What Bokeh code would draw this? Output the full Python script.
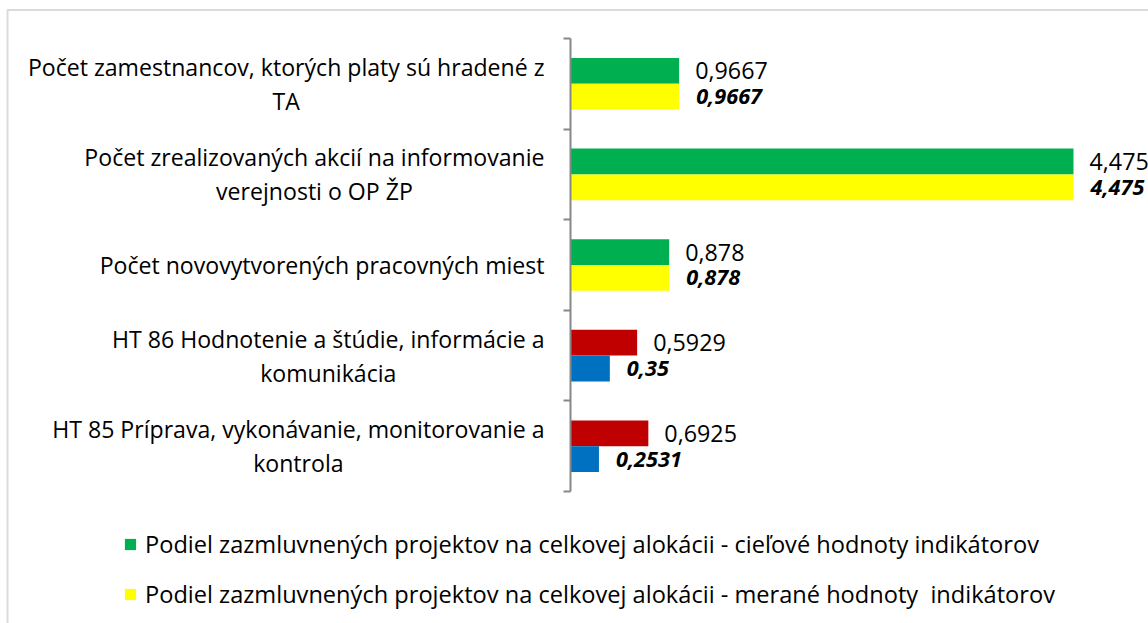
import subprocess
import glob

from bokeh.plotting import figure
from bokeh.models import (ColumnDataSource, FixedTicker, BoxAnnotation, Legend, LegendItem,
                          Range1d)
from bokeh.embed import file_html
from bokeh.resources import INLINE
from bokeh.core.properties import value

# ---------------- data ----------------
categories = [
    "Počet zamestnancov, ktorých platy sú hradené z\nTA",
    "Počet zrealizovaných akcií na informovanie\nverejnosti o OP ŽP",
    "Počet novovytvorených pracovných miest",
    "HT 86 Hodnotenie a štúdie, informácie a\nkomunikácia",
    "HT 85 Príprava, vykonávanie, monitorovanie a\nkontrola",
]
target_values = [0.9667, 4.475, 0.878, 0.5929, 0.6925]
measured_values = [0.9667, 4.475, 0.878, 0.35, 0.2531]
series_names = [
    "Podiel zazmluvnených projektov na celkovej alokácii - cieľové hodnoty indikátorov",
    "Podiel zazmluvnených projektov na celkovej alokácii - merané hodnoty  indikátorov",
]

# ---------------- styles ----------------
target_colors = ["#00B050", "#00B050", "#00B050", "#C00000", "#C00000"]
measured_colors = ["#FFFF00", "#FFFF00", "#FFFF00", "#0070C0", "#0070C0"]
AXIS_COLOR = "#878787"
FONT = "Open Sans"

W, H = 1148, 623
AXIS_PX = 570          # value-zero axis from the figure's left edge
PPU_X = 112.4          # pixels per value unit
CAT_PX = 90.6          # pixels per category
TOP_CAT_CENTER = 83.3  # top category centre from figure top
BAR_H = 0.285
BAR_OFF = 0.1425
LABEL_GAP = 26         # gap between category label block and the axis
LINE_STEP = 34         # line spacing of wrapped category labels (px)


def find_font(pattern, fname):
    try:
        out = subprocess.run(["fc-match", "-f", "%{file}", pattern],
                             capture_output=True, text=True, timeout=10).stdout.strip()
        if out and fname.split("-")[0].lower() in out.lower():
            return out
    except Exception:
        pass
    hits = glob.glob("/usr/share/fonts/**/" + fname, recursive=True)
    return hits[0] if hits else None


def text_width(s, size, path, fallback=0.53):
    lines = s.split("\n")
    try:
        from PIL import ImageFont
        f = ImageFont.truetype(path, size)
        return max(f.getlength(l) for l in lines)
    except Exception:
        return max(len(l) for l in lines) * size * fallback


def fit_size(sample, target_px, path, default):
    try:
        from PIL import ImageFont
        w = ImageFont.truetype(path, 100).getlength(sample)
        return round(100 * target_px / w, 1)
    except Exception:
        return default


reg_path = find_font(FONT + ":style=Regular", "OpenSans-Regular.ttf")
bi_path = find_font(FONT + ":style=Bold Italic", "OpenSans-BoldItalic.ttf")

CAT_SIZE = fit_size("Počet zamestnancov, ktorých platy sú hradené z", 517, reg_path, 20.5)
LEG_SIZE = fit_size(series_names[0], 894, reg_path, 20.5)
VAL_SIZE = fit_size("0,9667", 72.7, reg_path, 23)
VAL_B_SIZE = fit_size("0,9667", 65, bi_path, 20)

n = len(categories)
ypos = [n - 1 - i for i in range(n)]
x_start = -AXIS_PX / PPU_X
x_end = x_start + W / PPU_X
y_end = (n - 1) + TOP_CAT_CENTER / CAT_PX
y_start = y_end - H / CAT_PX

src = ColumnDataSource(dict(
    y=ypos,
    y1=[v + BAR_OFF for v in ypos],
    y2=[v - BAR_OFF for v in ypos],
    t=target_values,
    m=measured_values,
    tl=[str(v).replace(".", ",") for v in target_values],
    ml=[str(v).replace(".", ",") for v in measured_values],
    tc=target_colors,
    mc=measured_colors,
    zero=[0] * n,
))

# category labels: one row per text line, lines centred within a right-aligned block
ln_text, ln_y, ln_xoff, ln_yoff = [], [], [], []
for c, yv in zip(categories, ypos):
    lines = c.split("\n")
    block_w = text_width(c, CAT_SIZE, reg_path)
    for k, line in enumerate(lines):
        ln_text.append(line)
        ln_y.append(yv)
        ln_xoff.append(-(LABEL_GAP + block_w / 2))
        ln_yoff.append((k - (len(lines) - 1) / 2) * LINE_STEP)
lsrc = ColumnDataSource(dict(text=ln_text, y=ln_y, x=[0] * len(ln_text),
                             xo=ln_xoff, yo=ln_yoff))

p = figure(width=W, height=H, output_backend="svg", toolbar_location=None,
           x_range=Range1d(x_start, x_end), y_range=Range1d(y_start, y_end),
           x_axis_location=None, min_border=0,
           min_border_left=0, min_border_right=0, min_border_top=0, min_border_bottom=0)
p.outline_line_color = None
p.xgrid.visible = False
p.ygrid.visible = False
p.background_fill_color = "white"
p.border_fill_color = "white"

# chart-area frame: only its left and top edges fall inside the picture
p.add_layout(BoxAnnotation(left=(7 - AXIS_PX) / PPU_X, top=y_end - 9.5 / CAT_PX,
                           right=x_end + 1, bottom=y_start - 1,
                           fill_alpha=0, line_color=AXIS_COLOR, line_width=2,
                           level="underlay"))

r1 = p.hbar(y="y1", left="zero", right="t", height=BAR_H, fill_color="tc",
            line_color=None, source=src)
r2 = p.hbar(y="y2", left="zero", right="m", height=BAR_H, fill_color="mc",
            line_color=None, source=src)

p.text(x="t", y="y1", text="tl", x_offset=16, text_baseline="middle", text_align="left",
       text_font=value(FONT), text_font_size=f"{VAL_SIZE}px", text_color="black", source=src)
p.text(x="m", y="y2", text="ml", x_offset=17, text_baseline="middle", text_align="left",
       text_font=value(FONT), text_font_size=f"{VAL_B_SIZE}px", text_font_style="bold italic",
       text_color="black", source=src)

p.text(x="x", y="y", text="text", x_offset="xo", y_offset="yo", text_baseline="middle",
       text_align="center", text_font=value(FONT), text_font_size=f"{CAT_SIZE}px",
       text_color="black", source=lsrc)

ticks = [i - 0.5 for i in range(n + 1)]
ax = p.yaxis[0]
ax.fixed_location = 0
ax.bounds = (-0.5, n - 0.5)
ax.ticker = FixedTicker(ticks=ticks)
ax.major_label_overrides = {t: "" for t in ticks}
ax.major_tick_out = 7
ax.major_tick_in = 0
ax.minor_tick_out = 0
ax.minor_tick_in = 0
ax.axis_line_color = AXIS_COLOR
ax.axis_line_width = 2
ax.major_tick_line_color = AXIS_COLOR
ax.major_tick_line_width = 2

legend = Legend(items=[
    LegendItem(label=series_names[0], renderers=[r1], index=0),
    LegendItem(label=series_names[1], renderers=[r2], index=0),
], location=(123, 13), orientation="vertical", glyph_width=14, glyph_height=14,
    label_standoff=8, spacing=18, padding=0, margin=0, border_line_color=None,
    background_fill_alpha=0, label_text_font=FONT, label_text_font_size=f"{LEG_SIZE}px",
    label_height=20, label_text_color="black")
p.add_layout(legend)

open("out.html", "w").write(file_html(p, INLINE))
